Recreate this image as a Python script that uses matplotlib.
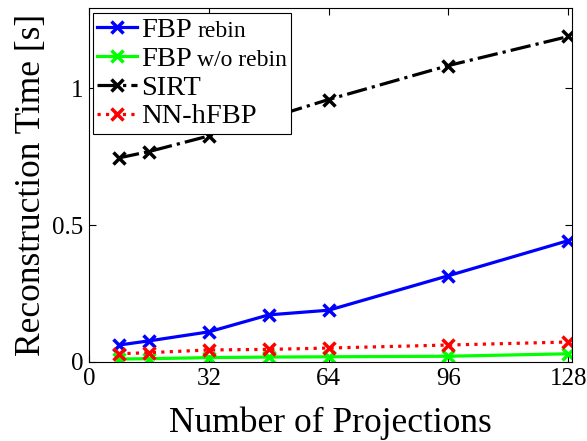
import numpy as np
import matplotlib
matplotlib.use("Agg")
import matplotlib.pyplot as plt

plt.rcParams['font.family'] = ['Liberation Serif', 'DejaVu Serif']

projections = [8, 16, 32, 48, 64, 96, 128]
fbp_rebin = [0.062, 0.077, 0.110, 0.172, 0.189, 0.315, 0.443]
fbp_norebin = [0.011, 0.012, 0.016, 0.018, 0.019, 0.021, 0.030]
sirt = [0.745, 0.768, 0.825, 0.890, 0.958, 1.082, 1.188]
nn_hfbp = [0.030, 0.034, 0.044, 0.046, 0.051, 0.062, 0.073]

fig = plt.figure(figsize=(5.87, 4.41), dpi=100)
ax = fig.add_axes([89/587, 1-362/441, (572-89)/587, (362-8)/441])

lw = 2.3
ms = 8
mew = 2.5
ax.plot(projections, fbp_rebin, color='blue', marker='x', lw=lw, ms=ms, mew=mew, label='FBP')
ax.plot(projections, fbp_norebin, color='#00ff00', marker='x', lw=lw, ms=ms, mew=mew, label='FBP')
ax.plot(projections, sirt, color='black', marker='x', lw=lw, ms=ms, mew=mew, ls='-.', label='SIRT')
ax.plot(projections, nn_hfbp, color='red', marker='x', lw=lw, ms=ms, mew=mew, ls=':', label='NN-hFBP')

ax.set_xlim(0, 129)
ax.set_ylim(0, 1.292)
ax.set_xticks([0, 32, 64, 96, 128])
ax.set_yticks([0, 0.5, 1])
ax.set_yticklabels(['0', '0.5', '1'])
ax.tick_params(direction='in', top=True, right=True, labelsize=18, length=5, pad=4)
ax.set_xlabel('Number of Projections', fontsize=25.5, labelpad=12)
ax.set_ylabel('Reconstruction Time [s]', fontsize=25.5, labelpad=3)

leg = ax.legend(loc='upper left', bbox_to_anchor=(0.008, 0.986, 0.41, 0), mode='expand',
                fontsize=20.5, frameon=True, fancybox=False, edgecolor='black',
                framealpha=1, borderaxespad=0, handlelength=1.4, handletextpad=0.15,
                labelspacing=0.1, borderpad=0.15)
leg.get_frame().set_linewidth(0.8)

# smaller words after "FBP" in the first two legend entries
fig.canvas.draw()
r = fig.canvas.get_renderer()
texts = leg.get_texts()
for t, extra in [(texts[0], 'rebin'), (texts[1], 'w/o rebin')]:
    bb = t.get_window_extent(r)
    fig.text((bb.x1 + 5) / fig.bbox.width, (bb.y0 + 6) / fig.bbox.height, extra,
             fontsize=17, ha='left', va='baseline', zorder=10)

fig.savefig('out.png', dpi=100)
